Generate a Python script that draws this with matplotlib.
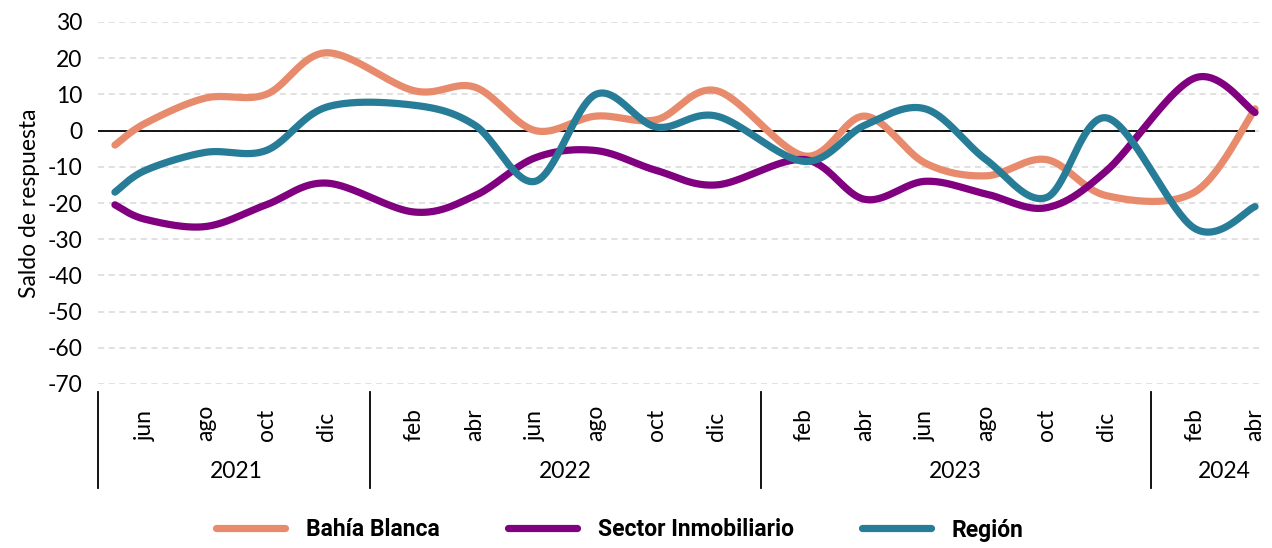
import matplotlib.pyplot as plt
import numpy as np
import pandas as pd
from matplotlib.lines import Line2D
from matplotlib.transforms import blended_transform_factory

# Fechas de la encuesta y saldos de respuesta
fechas = ["2021-05", "2021-06", "2021-08", "2021-10", "2021-12",
          "2022-02", "2022-04", "2022-06", "2022-08", "2022-10", "2022-12",
          "2023-02", "2023-04", "2023-06", "2023-08", "2023-10", "2023-12",
          "2024-02", "2024-04"]
bahia_blanca = [-4, 2, 9, 10, 21.5, 11, 12, 0, 4, 3, 11,
                -7, 4, -9, -12.5, -8, -18, -17, 6]
sector_inmobiliario = [-20.5, -24.5, -26.5, -20.5, -14.5, -22.5, -18, -7.5, -5.5, -11, -15,
                       -8, -19, -14, -17.5, -21.3, -11, 14.5, 5]
region = [-17, -11, -6, -5.5, 6.5, 7, 1.5, -14, 10, 1, 4,
          -8.5, 1.5, 6, -8, -18.5, 3.5, -27, -21]
meses = {2: "feb", 4: "abr", 6: "jun", 8: "ago", 10: "oct", 12: "dic"}

colores = {"Bahía Blanca": "#E88B6C", "Sector Inmobiliario": "#800080", "Región": "#277C97"}

plt.rcParams["font.family"] = ["Lato", "DejaVu Sans"]
plt.rcParams["axes.unicode_minus"] = False


def suavizar(x, y, n=40):
    """Curva suave tipo Excel (Catmull-Rom) que pasa por todos los puntos."""
    p = np.column_stack([x, y]).astype(float)
    p = np.vstack([p[0], p, p[-1]])
    t = np.linspace(0, 1, n)[:, None]
    partes = []
    for i in range(1, len(p) - 2):
        p0, p1, p2, p3 = p[i - 1], p[i], p[i + 1], p[i + 2]
        c1 = p1 + (p2 - p0) / 6
        c2 = p2 - (p3 - p1) / 6
        seg = ((1 - t) ** 3) * p1 + 3 * ((1 - t) ** 2) * t * c1 + 3 * (1 - t) * t ** 2 * c2 + t ** 3 * p2
        partes.append(seg if i == 1 else seg[1:])
    curva = np.vstack(partes)
    return curva[:, 0], curva[:, 1]


d = pd.to_datetime(fechas)
mes_num = np.asarray(d.month)
anio = np.asarray(d.year) - 2021
gap = 0.9  # separacion visual entre grupos de años
x = anio * 12 + mes_num + anio * gap

fig = plt.figure(figsize=(12.72, 5.48), dpi=100)
ax = fig.add_axes([98 / 1272, 1 - 384 / 548, (1262 - 98) / 1272, (384 - 22) / 548])

for nombre, serie in [("Bahía Blanca", bahia_blanca),
                      ("Sector Inmobiliario", sector_inmobiliario),
                      ("Región", region)]:
    xs, ys = suavizar(x, serie)
    ax.plot(xs, ys, color=colores[nombre], lw=5.2, solid_capstyle="round", zorder=3)

x0 = x[0] - 0.56
ax.set_xlim(x0, x[-1] + 0.23)
ax.set_ylim(-70, 30)
ax.set_yticks(np.arange(-70, 31, 10))
ax.yaxis.grid(True, color="#d9d9d9", linestyle=(0, (4, 3)), lw=1.1)
ax.set_axisbelow(True)
ax.hlines(0, x0, x[-1], color="black", lw=1.3, zorder=2)
for s in ax.spines.values():
    s.set_visible(False)
ax.set_xticks([])
ax.tick_params(axis="y", length=0, pad=11, labelsize=16.5)
ax.set_ylabel("Saldo de respuesta", fontsize=16.5, labelpad=6)

# Eje de categorías en dos niveles (mes / año)
tr = blended_transform_factory(ax.transData, fig.transFigure)
y_mes = 1 - 441 / 548
y_anio = 1 - 472 / 548
y_sep = (1 - 488 / 548, 1 - 392 / 548)

for xi, mes in zip(x, mes_num):
    if mes in meses:
        ax.text(xi, y_mes, meses[mes], transform=tr, rotation=90,
                ha="center", va="bottom", fontsize=16.5)

separadores = [x0]
for a in sorted(set(anio)):
    sel = (anio == a) & np.isin(mes_num, list(meses))
    ax.text(x[sel].mean(), y_anio, str(2021 + a), transform=tr,
            ha="center", va="center", fontsize=16.5)
    if a > 0:
        separadores.append((x[anio == a - 1].max() + x[anio == a].min()) / 2)
for xs in separadores:
    ax.plot([xs, xs], y_sep, transform=tr, color="black", lw=1.3, clip_on=False)

handles = [Line2D([], [], color=c, lw=5.2, solid_capstyle="round") for c in colores.values()]
fig.legend(handles, list(colores.keys()), loc="center", bbox_to_anchor=(620 / 1272, 1 - 530 / 548),
           ncol=3, frameon=False, handlelength=3.0, handletextpad=0.9, columnspacing=3.0,
           prop={"family": ["Roboto", "DejaVu Sans"], "weight": "bold", "size": 16.5})

fig.savefig("out.png", dpi=100)
